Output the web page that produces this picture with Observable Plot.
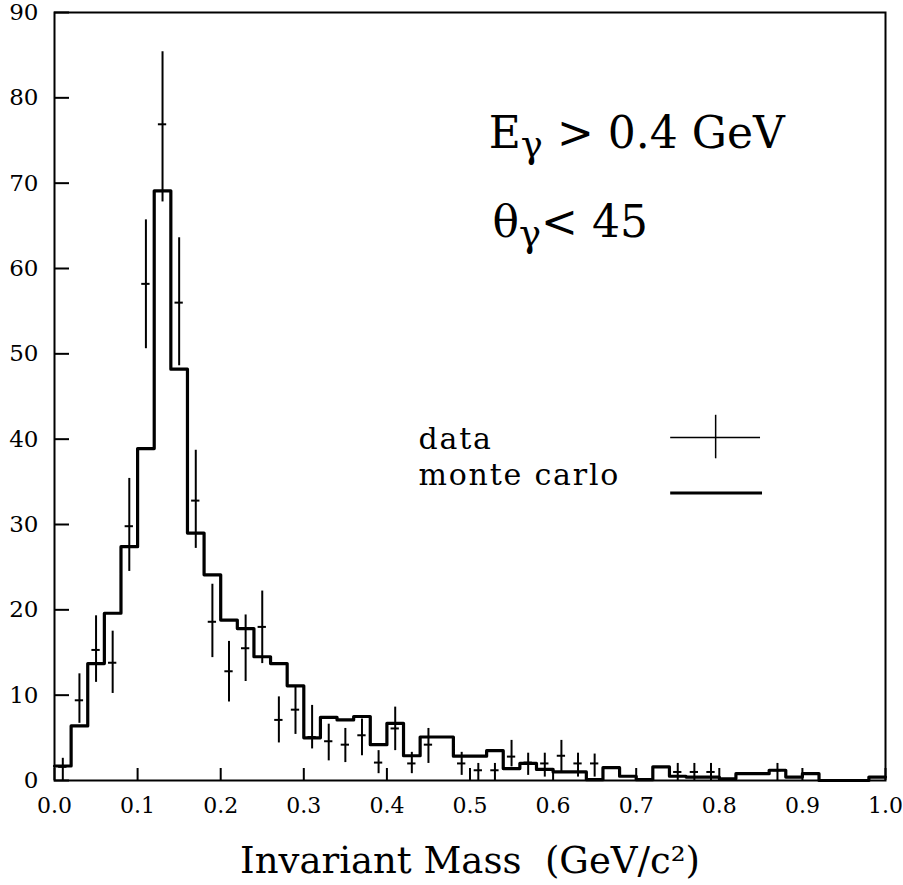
<!DOCTYPE html>
<html>
<head>
<meta charset="utf-8">
<script src="https://cdn.jsdelivr.net/npm/d3@7"></script>
<script src="https://cdn.jsdelivr.net/npm/@observablehq/plot@0.6"></script>
<style>
  html, body { margin: 0; padding: 0; background: #fff; }
</style>
</head>
<body>
<div id="chart"></div>
<script>
// ---- Data ----
const binWidth = 0.02;
// Monte Carlo histogram, one value per 0.02 GeV/c^2 bin from 0.00 to 1.00
const mcValues = [
  1.7, 6.4, 13.7, 19.6, 27.4, 38.9, 69.1, 48.2, 29.0, 24.1,
  18.8, 17.8, 14.5, 13.7, 11.1, 5.0, 7.4, 7.1, 7.5, 4.2,
  6.7, 2.9, 5.1, 5.1, 2.85, 2.85, 3.5, 1.4, 2.0, 1.3,
  1.0, 1.0, 0.1, 1.5, 0.5, 0.1, 1.6, 0.5, 0.4, 0.4,
  0.2, 0.8, 0.8, 1.2, 0.4, 0.8, 0, 0, 0, 0.4
];
// Data points (bin centres), counts and error-bar ends
const dataMass = [
  0.01, 0.03, 0.05, 0.07, 0.09, 0.11, 0.13, 0.15, 0.17, 0.19,
  0.21, 0.23, 0.25, 0.27, 0.29, 0.31, 0.33, 0.35, 0.37, 0.39,
  0.41, 0.43, 0.45, 0.49, 0.51, 0.53, 0.55, 0.57, 0.59, 0.61,
  0.63, 0.65, 0.75, 0.77, 0.79, 0.87
];
const dataCounts = [
  1.6, 9.4, 15.3, 13.8, 29.8, 58.2, 76.9, 56.0, 32.8, 18.6,
  12.8, 15.5, 18.0, 7.1, 8.3, 5.1, 4.6, 4.2, 5.3, 2.1,
  6.1, 2.0, 4.2, 2.0, 1.2, 1.2, 2.8, 2.1, 2.0, 2.9,
  2.0, 2.0, 1.0, 1.0, 1.0, 1.2
];
const dataLow = [
  0, 6.7, 11.5, 10.2, 24.5, 50.6, 67.8, 48.6, 27.2, 14.4,
  9.2, 11.6, 13.7, 4.4, 5.4, 3.7, 2.3, 2.1, 2.9, 0.8,
  3.5, 0.8, 2.0, 0.6, 0, 0, 1.6, 0.6, 0.4, 1.0,
  0.4, 0.4, 0, 0, 0, 0
];
const dataHigh = [
  2.6, 12.5, 19.3, 17.5, 35.4, 65.7, 85.4, 63.6, 38.7, 23.0,
  16.3, 19.4, 22.2, 9.8, 10.9, 8.8, 6.6, 6.1, 7.2, 3.5,
  8.6, 3.3, 6.1, 3.3, 2.0, 2.0, 4.7, 3.2, 3.2, 4.7,
  3.2, 3.1, 2.0, 2.0, 2.0, 2.0
];
const xTicks = [0, 0.1, 0.2, 0.3, 0.4, 0.5, 0.6, 0.7, 0.8, 0.9, 1.0];
const yTicks = [0, 10, 20, 30, 40, 50, 60, 70, 80, 90];
const xTitle = "Invariant Mass  (GeV/c²)";
const cutLabels = ["Eγ > 0.4 GeV", "θγ< 45"];
const legendLabels = ["data", "monte carlo"];

// ---- Tables built from the arrays ----
const mcTable = mcValues.map((v, i) => ({x: i * binWidth, y: v}))
  .concat([{x: mcValues.length * binWidth, y: mcValues[mcValues.length - 1]}]);
const points = dataMass.map((m, i) => ({x: m, y: dataCounts[i], lo: dataLow[i], hi: dataHigh[i]}));
const crossHalf = 0.005;

const ink = "#000";
const chart = Plot.plot({
  width: 903,
  height: 885,
  marginLeft: 54,
  marginRight: 18,
  marginTop: 12,
  marginBottom: 105,
  x: {domain: [0, 1]},
  y: {domain: [0, 90]},
  style: {fontFamily: "'DejaVu Serif', serif", color: ink, background: "#fff"},
  marks: [
    Plot.axisY({ticks: yTicks, tickSize: -15, tickPadding: 31, fontSize: 23, strokeWidth: 2, label: null}),
    Plot.axisX({ticks: xTicks, tickSize: -12, tickPadding: 29, fontSize: 22, strokeWidth: 2,
      tickFormat: d3.format(".1f"), label: null}),
    Plot.frame({stroke: ink, strokeWidth: 2}),
    Plot.lineY(mcTable, {x: "x", y: "y", curve: "step-after", stroke: ink, strokeWidth: 3.2}),
    Plot.ruleX(points, {x: "x", y1: "lo", y2: "hi", stroke: ink, strokeWidth: 2}),
    Plot.ruleY(points, {y: "y", x1: d => d.x - crossHalf, x2: d => d.x + crossHalf, stroke: ink, strokeWidth: 2}),
    Plot.text([xTitle], {frameAnchor: "bottom", dy: 92, lineAnchor: "bottom", fontSize: 37, text: d => d, fill: ink}),
    // cut annotations
    Plot.text([cutLabels[0]], {x: 0.5225, y: 74.15, text: d => d, textAnchor: "start", lineAnchor: "bottom", fontSize: 44, fill: ink}),
    Plot.text([cutLabels[1]], {x: 0.527, y: 63.67, text: d => d, textAnchor: "start", lineAnchor: "bottom", fontSize: 44, fill: ink}),
    // legend
    Plot.text([legendLabels[0]], {x: 0.438, y: 38.85, text: d => d, textAnchor: "start", lineAnchor: "bottom", fontSize: 30, fill: ink}),
    Plot.text([legendLabels[1]], {x: 0.438, y: 34.64, text: d => d, textAnchor: "start", lineAnchor: "bottom", fontSize: 30, fill: ink}),
    Plot.ruleY([40.2], {x1: 0.7415, x2: 0.8496, stroke: ink, strokeWidth: 1.5}),
    Plot.ruleX([0.7956], {y1: 37.7, y2: 42.8, stroke: ink, strokeWidth: 1.5}),
    Plot.ruleY([33.7], {x1: 0.7415, x2: 0.852, stroke: ink, strokeWidth: 3})
  ]
});
document.getElementById("chart").appendChild(chart);

d3.select(chart).selectAll("text").each(function() {
  const t = this.textContent;
  // wider letter spacing for the legend words
  if (legendLabels.includes(t)) d3.select(this).style("letter-spacing", "1.8px");
  // subscript gamma in the cut annotations
  const k = t.indexOf("γ");
  if (k < 0 || this.querySelector("tspan.sub")) return;
  const el = d3.select(this);
  el.text(null);
  el.append("tspan").text(t.slice(0, k));
  el.append("tspan").attr("class", "sub").attr("font-size", "37px").attr("dy", "9px").text("γ");
  el.append("tspan").attr("dy", "-9px").text(t.slice(k + 1));
});
</script>
</body>
</html>
